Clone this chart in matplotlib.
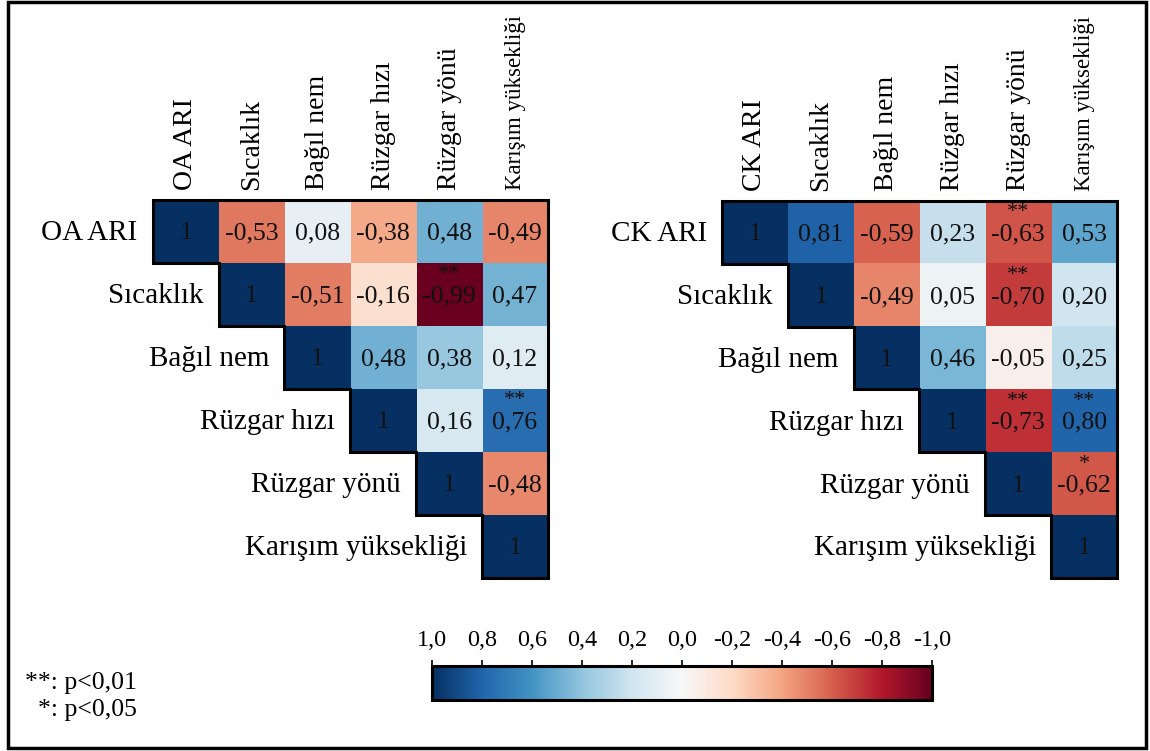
import numpy as np
import matplotlib
matplotlib.use("Agg")
import matplotlib.pyplot as plt
from matplotlib.patches import Polygon, Rectangle

plt.rcParams['font.family'] = ['Liberation Serif', 'DejaVu Serif']

# variable names
labels_oa = ["OA ARI", "Sıcaklık", "Bağıl nem", "Rüzgar hızı", "Rüzgar yönü", "Karışım yüksekliği"]
labels_ck = ["CK ARI", "Sıcaklık", "Bağıl nem", "Rüzgar hızı", "Rüzgar yönü", "Karışım yüksekliği"]

# upper triangle rows (starting at the diagonal)
oa_rows = [
    [1, -0.53, 0.08, -0.38, 0.48, -0.49],
    [1, -0.51, -0.16, -0.99, 0.47],
    [1, 0.48, 0.38, 0.12],
    [1, 0.16, 0.76],
    [1, -0.48],
    [1],
]
oa_sig = [
    ["", "", "", "", "", ""],
    ["", "", "", "**", ""],
    ["", "", "", ""],
    ["", "", "**"],
    ["", ""],
    [""],
]

ck_rows = [
    [1, 0.81, -0.59, 0.23, -0.63, 0.53],
    [1, -0.49, 0.05, -0.70, 0.20],
    [1, 0.46, -0.05, 0.25],
    [1, -0.73, 0.80],
    [1, -0.62],
    [1],
]
ck_sig = [
    ["", "", "", "", "**", ""],
    ["", "", "", "**", ""],
    ["", "", "", ""],
    ["", "**", "**"],
    ["", "*"],
    [""],
]

cbar_ticks = [1.0, 0.8, 0.6, 0.4, 0.2, 0.0, -0.2, -0.4, -0.6, -0.8, -1.0]

cmap = plt.get_cmap('RdBu').copy()
cmap.set_bad((1, 1, 1, 0))


def fmt(v):
    if v == 1:
        return "1"
    return f"{v:.2f}".replace('.', ',')


def draw_tri(ax, rows, sig, labels):
    n = len(labels)
    mat = np.full((n, n), np.nan)
    for i, r in enumerate(rows):
        mat[i, i:] = r
    im = ax.imshow(np.ma.masked_invalid(mat), cmap=cmap, vmin=-1, vmax=1,
                   aspect='auto', interpolation='nearest')
    for i, r in enumerate(rows):
        for k, v in enumerate(r):
            j = i + k
            ax.text(j, i + 0.03, fmt(v), ha='center', va='center', fontsize=18.5, color='#111111')
            if sig[i][k]:
                ax.text(j, i - 0.31, sig[i][k], ha='center', va='center', fontsize=16, color='#111111')

    # staircase outline around the triangle
    stair = [(-0.5, -0.5), (n - 0.5, -0.5), (n - 0.5, n - 0.5)]
    for i in range(n - 1, 0, -1):
        stair.append((i - 0.5, i + 0.5))
        stair.append((i - 0.5, i - 0.5))
    stair.append((-0.5, 0.5))
    ax.add_patch(Polygon(stair, closed=True, fill=False, edgecolor='black', lw=2.2, clip_on=False))

    ax.set_xlim(-0.5, n - 0.5)
    ax.set_ylim(n - 0.5, -0.5)
    ax.axis('off')

    # row labels
    for i, lab in enumerate(labels):
        ax.text(i - 0.73, i + 0.03, lab, ha='right', va='center', fontsize=21)
    # column labels
    for j, lab in enumerate(labels):
        fs = 16.5 if j == n - 1 else 20
        ax.text(j, -0.66, lab, ha='center', va='bottom', rotation=90, fontsize=fs)
    return im


fig = plt.figure(figsize=(11.5, 7.51), dpi=100)

ax1 = fig.add_axes([0.1328, 0.2304, 0.3437, 0.5033])
ax2 = fig.add_axes([0.6278, 0.2304, 0.3435, 0.5020])
im = draw_tri(ax1, oa_rows, oa_sig, labels_oa)
draw_tri(ax2, ck_rows, ck_sig, labels_ck)

# colorbar, 1 on the left
cax = fig.add_axes([0.3757, 0.0679, 0.4348, 0.0453])
cb = fig.colorbar(im, cax=cax, orientation='horizontal')
cax.invert_xaxis()
cax.xaxis.set_ticks_position('top')
cb.set_ticks(cbar_ticks)
cb.set_ticklabels([f"{t:.1f}".replace('.', ',') for t in cbar_ticks])
cax.tick_params(axis='x', length=4, width=1.2, pad=7, labelsize=17.5)
cb.outline.set_linewidth(2.2)

fig.text(0.119, 0.091, "**: p<0,01", ha='right', va='center', fontsize=18.5)
fig.text(0.119, 0.055, "*: p<0,05", ha='right', va='center', fontsize=18.5)

fig.add_artist(Rectangle((0.007, 0.004), 0.9896, 0.9933, transform=fig.transFigure,
                         fill=False, edgecolor='black', lw=2.5))

fig.savefig("out.png", dpi=100)
